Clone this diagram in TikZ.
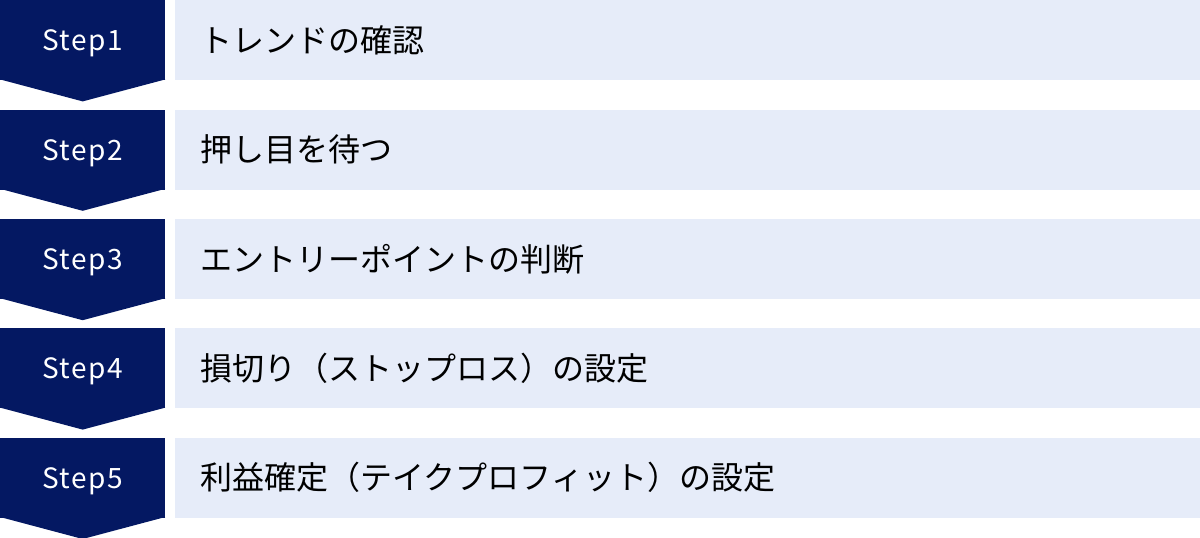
\documentclass[tikz,border=0pt]{standalone}
\usepackage{fontspec}
\setmainfont{Noto Sans CJK JP}
\newfontfamily\stepfont[LetterSpace=6]{Noto Sans CJK JP}
\usepackage{tikz}
\usetikzlibrary{positioning}
\definecolor{navy}{RGB}{4,24,98}
\definecolor{paleblue}{RGB}{230,236,249}

\begin{document}
\begin{tikzpicture}[
            x=1pt, y=1pt,
            stepbox/.style={rectangle, fill=navy, text=white, minimum height=80pt, minimum width=165pt, inner sep=0pt, text depth=0pt, font=\stepfont\fontsize{28}{34}\selectfont},
            task/.style={rectangle, fill=paleblue, minimum height=80pt, text width=974pt, inner xsep=26pt, inner ysep=0pt, align=left, font=\fontsize{32}{38}\selectfont},
            arrowtip/.style={fill=navy},
            node distance=29pt and 9pt
        ]
        \useasboundingbox (0,0) rectangle (1200,-538);

        % Steps
        \node[stepbox, anchor=north west] (step1) at (0,0) {Step1};
        \node[stepbox, below=of step1] (step2) {Step2};
        \node[stepbox, below=of step2] (step3) {Step3};
        \node[stepbox, below=of step3] (step4) {Step4};
        \node[stepbox, below=of step4] (step5) {Step5};

        % chevrons under each step (start a bit inside the box, no seam)
        \fill[arrowtip] ([yshift=1pt]step1.south west) -- ([yshift=-21pt]step1.south) -- ([yshift=1pt]step1.south east) -- cycle;
        \fill[arrowtip] ([yshift=1pt]step2.south west) -- ([yshift=-21pt]step2.south) -- ([yshift=1pt]step2.south east) -- cycle;
        \fill[arrowtip] ([yshift=1pt]step3.south west) -- ([yshift=-21pt]step3.south) -- ([yshift=1pt]step3.south east) -- cycle;
        \fill[arrowtip] ([yshift=1pt]step4.south west) -- ([yshift=-21pt]step4.south) -- ([yshift=1pt]step4.south east) -- cycle;
        \fill[arrowtip] ([yshift=1pt]step5.south west) -- ([yshift=-21pt]step5.south) -- ([yshift=1pt]step5.south east) -- cycle;

        % Tasks
        \node[task, right=of step1] (trend) {トレンドの確認};
        \node[task, right=of step2] (pullback) {押し目を待つ};
        \node[task, right=of step3] (entry) {エントリーポイントの判断};
        \node[task, right=of step4] (stoploss) {損切り（ストップロス）の設定};
        \node[task, right=of step5] (takeprofit) {利益確定（テイクプロフィット）の設定};
    \end{tikzpicture}
\end{document}
